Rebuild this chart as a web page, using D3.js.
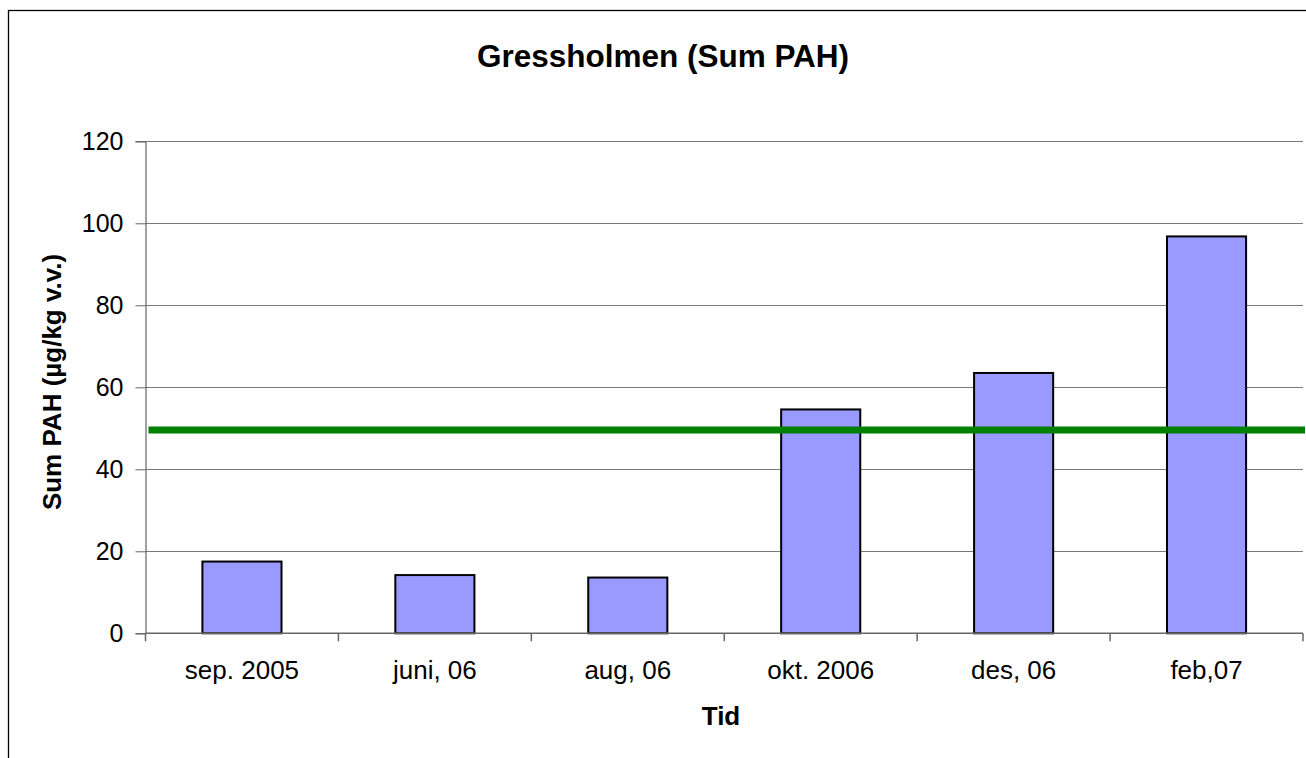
<!DOCTYPE html>
<html>
<head>
<meta charset="utf-8">
<script src="https://cdn.jsdelivr.net/npm/d3@7/dist/d3.min.js"></script>
<style>
  html, body { margin: 0; padding: 0; background: #fff; }
  svg { display: block; font-family: Arial, "Liberation Sans", sans-serif; }
</style>
</head>
<body>
<svg id="chart" width="1306" height="758"></svg>
<script>
const categories = ["sep. 2005", "juni, 06", "aug, 06", "okt. 2006", "des, 06", "feb,07"];
const sumPAH = [17.5, 14.2, 13.6, 54.6, 63.5, 96.8];
const yTicks = [0, 20, 40, 60, 80, 100, 120];
const limitValue = 49.6;
const titleText = "Gressholmen (Sum PAH)";
const yTitle = "Sum PAH (µg/kg v.v.)";
const xTitle = "Tid";

const svg = d3.select("#chart");
const W = 1306, H = 758;
const plot = { left: 145.5, right: 1303, top: 141.3, bottom: 633.3 };

// outer frame
svg.append("rect")
  .attr("x", 8.5).attr("y", 10.5)
  .attr("width", W + 10).attr("height", H + 10)
  .attr("fill", "#fff").attr("stroke", "#000").attr("stroke-width", 1.3);

const x = d3.scaleBand()
  .domain(categories)
  .range([plot.left, plot.right])
  .paddingInner(0.59)
  .paddingOuter(0.295);

const y = d3.scaleLinear().domain([0, 120]).range([plot.bottom, plot.top]);

// gridlines
svg.append("g").selectAll("line")
  .data(yTicks.filter(d => d > 0))
  .join("line")
  .attr("x1", plot.left).attr("x2", plot.right)
  .attr("y1", d => Math.round(y(d)) + 0.5).attr("y2", d => Math.round(y(d)) + 0.5)
  .attr("stroke", "#7a7a7a").attr("stroke-width", 1);

// y axis
const yAxis = d3.axisLeft(y).tickValues(yTicks).tickSize(10).tickPadding(12);
const gy = svg.append("g").attr("transform", `translate(${plot.left},0)`).call(yAxis);
gy.select(".domain").attr("stroke", "#444");
gy.selectAll(".tick line").attr("stroke", "#666");
gy.selectAll(".tick text").attr("font-size", 25).attr("fill", "#000")
  .attr("font-family", "Arial, 'Liberation Sans', sans-serif");

// bars
svg.append("g").selectAll("rect")
  .data(categories.map((c, i) => ({ c, v: sumPAH[i] })))
  .join("rect")
  .attr("x", d => x(d.c))
  .attr("y", d => y(d.v))
  .attr("width", x.bandwidth())
  .attr("height", d => y(0) - y(d.v))
  .attr("fill", "#9999ff")
  .attr("stroke", "#000").attr("stroke-width", 2);

// x axis line and ticks at category boundaries
const step = x.step();
svg.append("line")
  .attr("x1", plot.left).attr("x2", plot.right)
  .attr("y1", plot.bottom).attr("y2", plot.bottom)
  .attr("stroke", "#666").attr("stroke-width", 1.5);
svg.append("g").selectAll("line")
  .data(d3.range(categories.length + 1))
  .join("line")
  .attr("x1", i => plot.left + i * step).attr("x2", i => plot.left + i * step)
  .attr("y1", plot.bottom).attr("y2", plot.bottom + 8)
  .attr("stroke", "#666").attr("stroke-width", 1.5);

// x labels
svg.append("g").selectAll("text")
  .data(categories)
  .join("text")
  .attr("x", d => x(d) + x.bandwidth() / 2)
  .attr("y", 679)
  .attr("text-anchor", "middle")
  .attr("font-size", 26)
  .text(d => d);

// limit line
svg.append("line")
  .attr("x1", plot.left + 3).attr("x2", plot.right + 2)
  .attr("y1", y(limitValue)).attr("y2", y(limitValue))
  .attr("stroke", "#008000").attr("stroke-width", 7);

// titles
svg.append("text")
  .attr("x", 663).attr("y", 67)
  .attr("text-anchor", "middle")
  .attr("font-size", 31.5).attr("font-weight", "bold")
  .text(titleText);

svg.append("text")
  .attr("x", 721).attr("y", 725)
  .attr("text-anchor", "middle")
  .attr("font-size", 26).attr("font-weight", "bold")
  .text(xTitle);

svg.append("text")
  .attr("transform", "translate(61,382) rotate(-90)")
  .attr("text-anchor", "middle")
  .attr("font-size", 26).attr("font-weight", "bold")
  .text(yTitle);
</script>
</body>
</html>
